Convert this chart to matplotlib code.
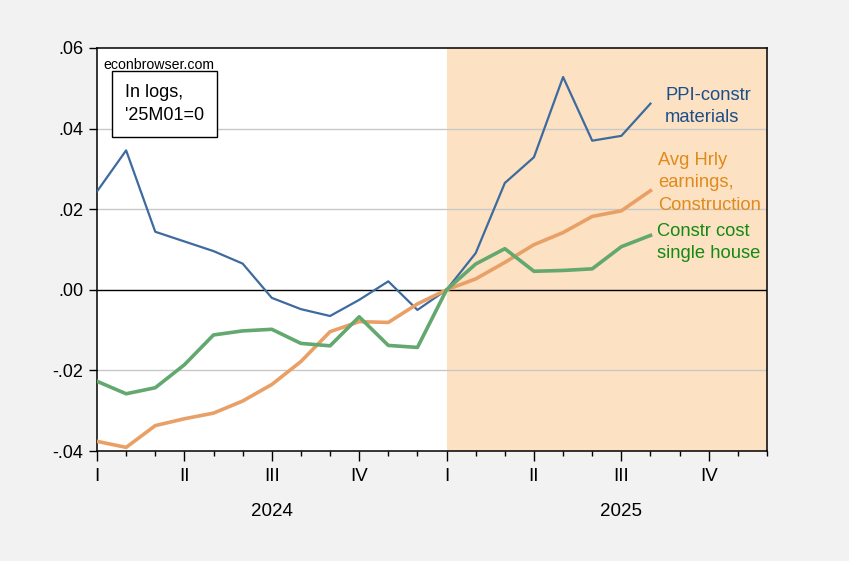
import numpy as np
import matplotlib
matplotlib.use("Agg")
import matplotlib.pyplot as plt
import matplotlib.transforms as mtransforms

plt.rcParams["font.family"] = ["Liberation Sans", "DejaVu Sans"]

# months since 2024M01, log levels relative to 2025M01
months = np.arange(20)
ppi_constr = [0.0244, 0.0346, 0.0144, 0.0120, 0.0096, 0.0065, -0.0020, -0.0048,
              -0.0065, -0.0025, 0.0021, -0.0050, 0.0, 0.0091, 0.0265, 0.0329,
              0.0528, 0.0370, 0.0382, 0.0462]
ahe_constr = [-0.0376, -0.0391, -0.0337, -0.0320, -0.0306, -0.0276, -0.0235, -0.0178,
              -0.0104, -0.0079, -0.0081, -0.0035, 0.0, 0.0027, 0.0068, 0.0112,
              0.0142, 0.0182, 0.0196, 0.0246]
house_cost = [-0.0227, -0.0258, -0.0243, -0.0186, -0.0112, -0.0102, -0.0098, -0.0133,
              -0.0139, -0.0067, -0.0138, -0.0143, 0.0, 0.0064, 0.0102, 0.0046,
              0.0048, 0.0052, 0.0107, 0.0135]

y_ticks = [-0.04, -0.02, 0.0, 0.02, 0.04, 0.06]
y_labels = ["-.04", "-.02", ".00", ".02", ".04", ".06"]
quarter_labels = ["I", "II", "III", "IV", "I", "II", "III", "IV"]
years = ["2024", "2025"]

fig = plt.figure(figsize=(8.49, 5.61), dpi=100)
fig.patch.set_facecolor("#f2f2f2")
ax = fig.add_axes([97 / 849, 1 - 451 / 561, (767 - 97) / 849, (451 - 48) / 561])

ax.axvspan(12, 23, color="#fde1c3", lw=0, zorder=0)
for yv in [-0.02, 0.02, 0.04]:
    ax.axhline(yv, color="#c8c8c8", lw=1, zorder=1)
ax.axhline(0, color="black", lw=1, zorder=2)

ax.plot(months, ppi_constr, color="#3d6b9e", lw=1.6, zorder=3)
ax.plot(months, ahe_constr, color="#e9a066", lw=2.6, zorder=4)
ax.plot(months, house_cost, color="#62a86f", lw=2.6, zorder=5)

ax.set_xlim(0, 23)
ax.set_ylim(-0.04, 0.06)
ax.set_yticks(y_ticks)
ax.set_yticklabels(y_labels, fontsize=13)
ax.tick_params(axis="y", direction="out", length=6, width=1, pad=4)

ax.set_xticks(np.arange(0, 24, 3))
ax.set_xticklabels(quarter_labels, fontsize=13.5)
ax.set_xticks(np.arange(0, 24, 1), minor=True)
ax.tick_params(axis="x", which="major", direction="out", length=7.5, width=1, pad=5)
ax.tick_params(axis="x", which="minor", direction="out", length=3.6, width=1)

for s in ax.spines.values():
    s.set_linewidth(1.1)
    s.set_color("black")

trans = mtransforms.blended_transform_factory(ax.transData, ax.transAxes)
for i, yr in enumerate(years):
    ax.text(6 + 12 * i, -0.15, yr, transform=trans, ha="center", va="center", fontsize=13.5)

ax.text(0.009, 0.957, "econbrowser.com", transform=ax.transAxes, fontsize=10.2,
        ha="left", va="center")
ax.text(0.042, 0.86, "In logs,\n'25M01=0", transform=ax.transAxes, fontsize=13,
        ha="left", va="center", linespacing=1.45,
        bbox=dict(boxstyle="square,pad=0.72", fc="white", ec="black", lw=1))

ax.text(19.5, 0.0455, "PPI-constr\nmaterials", fontsize=13.2, color="#1b4f8a",
        ha="left", va="center", linespacing=1.45)
ax.text(19.27, 0.0266, "Avg Hrly\nearnings,\nConstruction", fontsize=13.2, color="#e08a1c",
        ha="left", va="center", linespacing=1.42)
ax.text(19.22, 0.0118, "Constr cost\nsingle house", fontsize=13.2, color="#138a13",
        ha="left", va="center", linespacing=1.42)

fig.savefig("out.png", dpi=100, facecolor=fig.get_facecolor())
